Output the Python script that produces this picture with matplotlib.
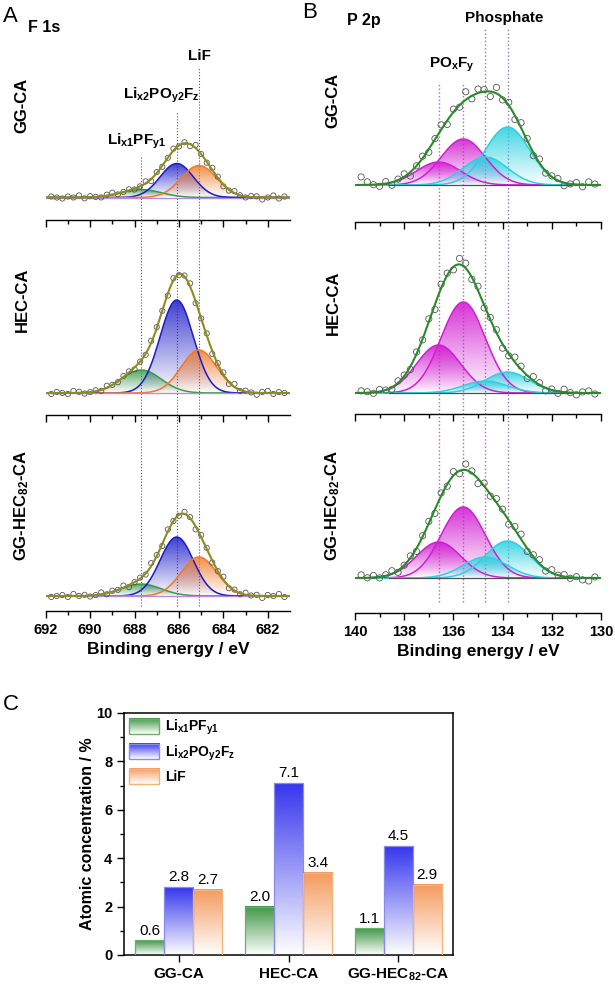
import numpy as np
import matplotlib
matplotlib.use('Agg')
import matplotlib.pyplot as plt
import matplotlib.colors as mcolors
from matplotlib.patches import Rectangle
from matplotlib.legend_handler import HandlerBase
from matplotlib.image import BboxImage
from matplotlib.transforms import Bbox, TransformedBbox

plt.rcParams['font.family'] = ['Liberation Sans', 'DejaVu Sans']
plt.rcParams['mathtext.fontset'] = 'custom'
plt.rcParams['mathtext.rm'] = 'Liberation Sans'
plt.rcParams['mathtext.bf'] = 'Liberation Sans:bold'
plt.rcParams['mathtext.default'] = 'bf'

# ---- data ----
samples = ['GG-CA', 'HEC-CA', 'GG-HEC$_{82}$-CA']

# F 1s fits: Li_x1PF_y1, Li_x2PO_y2F_z, LiF
f1s_centers = [687.7, 686.1, 685.1]
f1s_sigmas = [0.9, 0.75, 0.8]
f1s_heights = [[8, 34, 32], [23, 93, 43], [12, 59, 39]]
f1s_colors = ['#3b9a4a', '#1c1cc8', '#f07a2a']
f1s_energy = np.arange(681.25, 691.8, 0.25)
f1s_noise = [
    [1, -1, 2, 0, -2, 1, 1, -1, 0, 2, -1, -2, 1, 2, -1, 0, 3, -2, 1, -1, 2, 0,
     -1, 1, -2, 2, 0, -1, 1, 0, -1, 2, 1, -1, 0, 1, -1, 2, 0, 1, -1, 0, 1],
    [0, 1, -1, 2, 1, -2, 0, 1, -1, 3, -2, 2, 1, -3, 2, 0, -2, 3, 1, -1, 2, -2,
     0, 1, 2, -1, 0, -2, 1, 1, -1, 0, 2, -1, 1, 0, -1, 1, 2, -1, 0, 1, -1],
    [-1, 2, 0, 1, -2, 1, 0, 2, -1, 1, -2, 3, 0, -2, 1, 2, -3, 1, 2, -1, 0, 2,
     -2, 1, 3, -1, 1, 0, -2, 2, 0, 1, -1, 2, 0, -1, 1, 0, 2, -1, 1, 0, -1],
]

# P 2p fits: PO_xF_y doublet, phosphate doublet
p2p_centers = [136.6, 135.6, 134.7, 133.8]
p2p_sigma = 0.9
p2p_heights = [[23, 46, 28, 58], [48, 91, 12, 21], [36, 71, 21, 37]]
p2p_colors = ['#d21ed2', '#d21ed2', '#2cd2e0', '#2cd2e0']
p2p_energy = np.arange(130.25, 139.8, 0.25)
p2p_noise = [
    [1, 3, -2, 2, 0, -3, 2, 1, -2, 4, -3, 2, 5, -4, 3, -2, 6, -5, 2, 4,
     -3, 8, -2, 3, -4, 5, 1, -3, 2, 0, -4, 3, 1, -3, 2, -2, 0, 3, 8],
    [-1, 2, 1, -2, 0, 3, -2, 1, -3, 2, 4, -3, 3, 5, -2, -4, 3, 2, -3, 4,
     -2, 5, 6, -3, 2, 4, -5, 3, -1, 2, -3, 1, 2, -2, 0, 2, -1, 1, 2],
    [1, -3, -2, 1, -1, 2, 0, 3, -2, 4, 2, -3, 5, 3, -4, 2, 4, -2, 3, -5,
     2, 6, -3, 4, -2, 3, -4, 2, 1, -3, 2, 0, -2, 3, 1, -1, 2, 0, 3],
]

# atomic concentration (%)
bar_labels = ['GG-CA', 'HEC-CA', 'GG-HEC$_{82}$-CA']
conc_lipf = [0.6, 2.0, 1.1]
conc_lipof = [2.8, 7.1, 4.5]
conc_lif = [2.7, 3.4, 2.9]
legend_names = ['Li$_{x1}$PF$_{y1}$', 'Li$_{x2}$PO$_{y2}$F$_{z}$', 'LiF']
bar_colors = ['#3f9646', '#3535ee', '#f59a5e']
bar_edges = ['#6aae6e', '#8a8ae8', '#f2b27a']

W, H = 615, 989


def fx(px):
    return px / W


def fy(py):
    return 1 - py / H


def gauss(x, c, h, s):
    return h * np.exp(-(x - c) ** 2 / (2 * s ** 2))


def grad_rgba(color, top=0.9):
    img = np.zeros((256, 1, 4))
    img[..., :3] = mcolors.to_rgb(color)
    img[..., 3] = np.linspace(0, top, 256)[:, None]
    return img


def grad_fill(ax, x, y, color, top=0.85, z=1):
    poly = ax.fill_between(x, 0, y, facecolor='none', edgecolor='none', zorder=z)
    im = ax.imshow(grad_rgba(color, top), aspect='auto', origin='lower',
                   extent=[x.min(), x.max(), 0, y.max()], zorder=z,
                   interpolation='bilinear')
    im.set_clip_path(poly.get_paths()[0], transform=ax.transData)


class GradientHandler(HandlerBase):
    def __init__(self, color, edge):
        super().__init__()
        self.color = color
        self.edge = edge

    def create_artists(self, legend, orig_handle, xdescent, ydescent,
                       width, height, fontsize, trans):
        bb = TransformedBbox(Bbox.from_bounds(-xdescent, -ydescent, width, height), trans)
        im = BboxImage(bb, interpolation='bilinear', origin='lower')
        im.set_data(grad_rgba(self.color, 1.0))
        rect = Rectangle((-xdescent, -ydescent), width, height, facecolor='none',
                         edgecolor=self.edge, lw=1.0, transform=trans)
        return [im, rect]


fig = plt.figure(figsize=(6.15, 9.89), dpi=100)


def add_px_axes(left, right, top, bottom):
    ax = fig.add_axes([fx(left), fy(bottom), (right - left) / W, (bottom - top) / H])
    ax.patch.set_visible(False)
    return ax


def style_xps(ax, xlim, base, hpx, show_labels):
    ax.set_xlim(*xlim)
    ax.set_ylim(-base, hpx - base)
    for s in ['top', 'right', 'left']:
        ax.spines[s].set_visible(False)
    ax.spines['bottom'].set_linewidth(1.0)
    ax.set_yticks([])
    lo, hi = min(xlim), max(xlim)
    if lo % 2:
        lo += 1
    ax.set_xticks(np.arange(lo, hi + 0.1, 2))
    ax.set_xticks(np.arange(lo + 1, hi, 2), minor=True)
    ax.set_xlim(*xlim)
    ax.tick_params(axis='x', which='major', direction='out', length=5, width=1.0,
                   labelsize=10.5, labelbottom=show_labels)
    ax.tick_params(axis='x', which='minor', direction='out', length=3, width=1.0)
    for t in ax.get_xticklabels():
        t.set_fontweight('bold')


# ---- panel A: F 1s ----
rows_a = [(20, 219.5), (219.5, 415), (415, 611)]
base_a = [22, 22, 15]
tops_a = [67, 112, 155]  # pixel y where the guide lines start (LiF, Lix2, Lix1)
xf = np.linspace(681.0, 692.0, 800)
axes_a = []
for i, (t, b) in enumerate(rows_a):
    ax = add_px_axes(45.7, 290, t, b)
    axes_a.append(ax)
    env = np.zeros_like(xf)
    env_pts = np.zeros_like(f1s_energy)
    for c, s, h, col in zip(f1s_centers, f1s_sigmas, f1s_heights[i], f1s_colors):
        y = gauss(xf, c, h, s)
        env += y
        env_pts += gauss(f1s_energy, c, h, s)
        grad_fill(ax, xf, y, col, 0.85, 1)
        ax.plot(xf, y, color=col, lw=1.1, zorder=2)
    ax.axhline(0, color='#b98ae0', lw=1.0, zorder=2.5)
    ax.scatter(f1s_energy, env_pts + np.array(f1s_noise[i]), s=14, facecolors='none',
               edgecolors='#555555', linewidths=0.6, zorder=3)
    ax.plot(xf, env, color='#8c8c22', lw=1.5, zorder=4)
    for k, c in enumerate(f1s_centers):
        frac = (b - tops_a[2 - k]) / (b - t) if i == 0 else 1
        ymin = 0.025 if i == 2 else 0
        ax.axvline(c, ymin=ymin, ymax=frac, color='#555555', ls=':', lw=0.8, zorder=0)
    style_xps(ax, (692, 681), base_a[i], b - t, i == 2)
axes_a[2].set_xlabel('Binding energy / eV', fontsize=12.5, fontweight='bold', labelpad=4)

# ---- panel B: P 2p ----
rows_b = [(20, 222), (222, 414), (414, 613)]
base_b = [37, 21, 35]
tops_b = [82, 82, 27, 27]
xp = np.linspace(130.0, 140.0, 800)
axes_b = []
for i, (t, b) in enumerate(rows_b):
    ax = add_px_axes(355, 601, t, b)
    axes_b.append(ax)
    env = np.zeros_like(xp)
    env_pts = np.zeros_like(p2p_energy)
    for c, h, col in zip(p2p_centers, p2p_heights[i], p2p_colors):
        y = gauss(xp, c, h, p2p_sigma)
        env += y
        env_pts += gauss(p2p_energy, c, h, p2p_sigma)
        grad_fill(ax, xp, y, col, 0.9, 1)
        ax.plot(xp, y, color=col, lw=1.1, zorder=2)
    ax.plot([138.6, 131.2], [0, 0], color='#505050', lw=0.9, zorder=2.5)
    ax.scatter(p2p_energy, env_pts + np.array(p2p_noise[i]), s=20, facecolors='none',
               edgecolors='#555555', linewidths=0.6, zorder=3)
    ax.plot(xp, env, color='#2a8a2a', lw=1.5, zorder=4)
    for k, c in enumerate(p2p_centers):
        frac = (b - tops_b[k]) / (b - t) if i == 0 else 1
        ymin = 0.055 if i == 2 else 0
        ax.axvline(c, ymin=ymin, ymax=frac, color='#a070b0', ls=':', lw=1.0, zorder=0)
    style_xps(ax, (140, 130), base_b[i], b - t, i == 2)
axes_b[2].set_xlabel('Binding energy / eV', fontsize=12.5, fontweight='bold', labelpad=4)

# peak annotations
ta = axes_a[0]
hA = rows_a[0][1] - rows_a[0][0]
ta.text(685.1, (rows_a[0][1] - 56) / hA, 'LiF', transform=ta.get_xaxis_transform(),
        ha='center', va='center', fontsize=11, fontweight='bold')
ta.text(686.8, (rows_a[0][1] - 95) / hA, 'Li$_{x2}$PO$_{y2}$F$_{z}$',
        transform=ta.get_xaxis_transform(), ha='center', va='center', fontsize=11,
        fontweight='bold')
ta.text(687.9, (rows_a[0][1] - 141) / hA, 'Li$_{x1}$PF$_{y1}$',
        transform=ta.get_xaxis_transform(), ha='center', va='center', fontsize=11,
        fontweight='bold')
tb = axes_b[0]
hB = rows_b[0][1] - rows_b[0][0]
tb.text(136.05, (rows_b[0][1] - 65) / hB, 'PO$_{x}$F$_{y}$', transform=tb.get_xaxis_transform(),
        ha='center', va='center', fontsize=11, fontweight='bold')
tb.text(133.95, (rows_b[0][1] - 18) / hB, 'Phosphate', transform=tb.get_xaxis_transform(),
        ha='center', va='center', fontsize=11, fontweight='bold')

# panel and row labels
fig.text(fx(3), fy(16), 'A', fontsize=16, ha='left', va='center')
fig.text(fx(28), fy(27), 'F 1s', fontsize=11.5, fontweight='bold', ha='left', va='center')
fig.text(fx(302), fy(13), 'B', fontsize=16, ha='left', va='center')
fig.text(fx(347), fy(20), 'P 2p', fontsize=11.5, fontweight='bold', ha='left', va='center')
fig.text(fx(3), fy(705), 'C', fontsize=16, ha='left', va='center')
for lab, ya, yb in zip(samples, [105, 300, 505], [100, 303, 505]):
    fig.text(fx(22), fy(ya), lab, rotation=90, ha='center', va='center',
             fontsize=12, fontweight='bold')
    fig.text(fx(333), fy(yb), lab, rotation=90, ha='center', va='center',
             fontsize=12, fontweight='bold')

# ---- panel C: bars ----
axc = fig.add_axes([fx(124), fy(955), 329 / W, 242 / H])
pos = np.arange(len(bar_labels))
wd = 0.265
series = [conc_lipf, conc_lipof, conc_lif]
handles = []
for j, vals in enumerate(series):
    bars = axc.bar(pos + (j - 1) * wd, vals, wd, facecolor='none',
                   edgecolor=bar_edges[j], lw=0.9, zorder=3)
    for bb in bars:
        axc.imshow(grad_rgba(bar_colors[j], 1.0), aspect='auto', origin='lower',
                   extent=[bb.get_x(), bb.get_x() + bb.get_width(), 0, bb.get_height()],
                   interpolation='bilinear', zorder=2)
    axc.bar_label(bars, fmt='%.1f', padding=2, fontsize=11)
    handles.append(bars[0])
axc.set_xlim(-0.5, 2.5)
axc.set_ylim(0, 10)
axc.set_xticks(pos)
axc.set_xticklabels(bar_labels, fontsize=11, fontweight='bold')
axc.set_yticks(np.arange(0, 11, 2))
axc.set_yticks(np.arange(1, 10, 2), minor=True)
axc.tick_params(axis='y', which='major', length=5, width=1.0, labelsize=10.5)
axc.tick_params(axis='y', which='minor', length=3, width=1.0)
axc.tick_params(axis='x', which='major', length=5, width=1.0)
for t in axc.get_yticklabels():
    t.set_fontweight('bold')
for s in axc.spines.values():
    s.set_linewidth(1.1)
axc.set_ylabel('Atomic concentration / %', fontsize=11.5, fontweight='bold')
axc.yaxis.set_label_coords(-0.088, 0.5)
hmap = {h: GradientHandler(bar_colors[j], bar_edges[j]) for j, h in enumerate(handles)}
axc.legend(handles, legend_names, handler_map=hmap, loc='upper left', frameon=False,
           prop={'weight': 'bold', 'size': 10}, handlelength=2.2, handleheight=1.3,
           labelspacing=0.45, handletextpad=0.4, borderaxespad=0.25, borderpad=0.1)

fig.savefig('out.png', dpi=100)
